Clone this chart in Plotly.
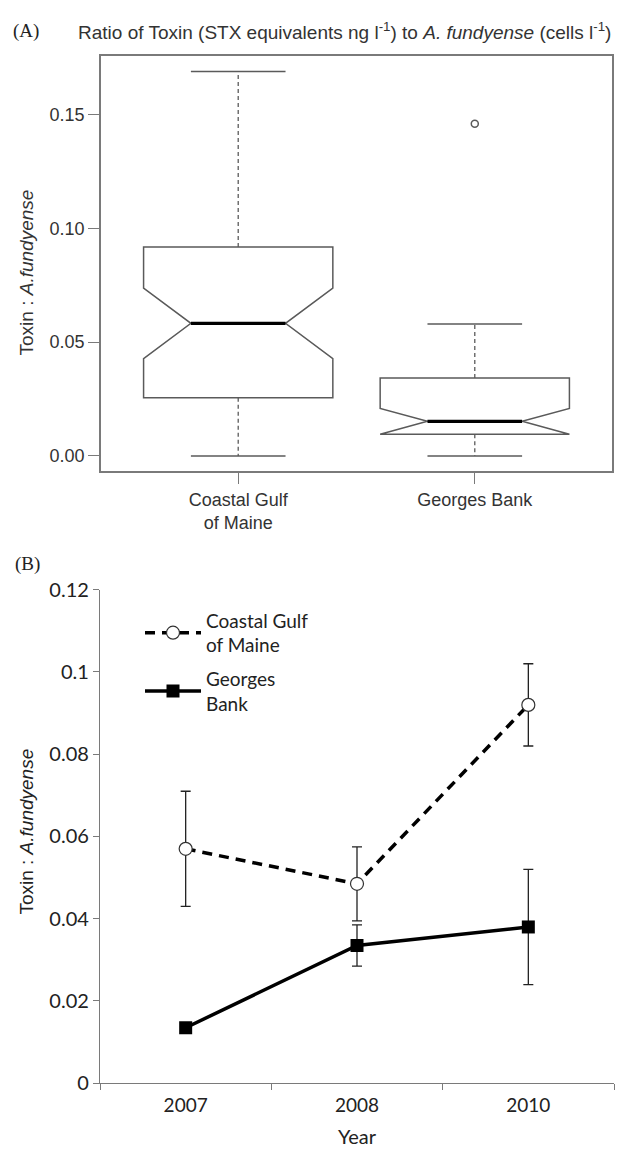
import plotly.graph_objects as go

# ---------- Panel A data (box statistics) ----------
regions = ["Coastal Gulf<br>of Maine", "Georges Bank"]
positions = [1, 2]
q1 = [0.0256, 0.0095]
median = [0.0583, 0.0152]
q3 = [0.0918, 0.0343]
lower_whisker = [0.0, 0.0]
upper_whisker = [0.169, 0.058]
notch_half = [0.0155, 0.0057]
outlier_pos = [2]
outlier_val = [0.146]

# ---------- Panel B data ----------
years = ["2007", "2008", "2010"]
coastal_mean = [0.057, 0.0485, 0.092]
coastal_err = [0.014, 0.009, 0.010]
georges_mean = [0.0135, 0.0335, 0.038]
georges_err = [0.0008, 0.005, 0.014]
b_ticks = [0, 0.02, 0.04, 0.06, 0.08, 0.10, 0.12]
b_ticklabels = ["0", "0.02", "0.04", "0.06", "0.08", "0.1", "0.12"]
a_ticks = [0.0, 0.05, 0.10, 0.15]
a_ticklabels = ["0.00", "0.05", "0.10", "0.15"]

W, H = 634, 1153
BOXW = 0.8
GRAY = "#5a5a5a"
AX = "#7a7a7a"

fig = go.Figure()

# Panel A boxes
for i in range(len(regions)):
    fig.add_trace(go.Box(
        x=[positions[i]], q1=[q1[i]], median=[median[i]], q3=[q3[i]],
        lowerfence=[q1[i]], upperfence=[q3[i]],
        notched=True, notchspan=[notch_half[i]], notchwidth=0.25,
        width=BOXW, fillcolor="rgba(0,0,0,0)",
        line=dict(color=GRAY, width=1.5), boxpoints=False,
        showlegend=False, hoverinfo="skip", xaxis="x", yaxis="y"))
    # dashed whiskers
    fig.add_trace(go.Scatter(x=[positions[i], positions[i]], y=[q3[i], upper_whisker[i]],
                             mode="lines", line=dict(color=GRAY, width=1.3, dash="4px,3px"),
                             showlegend=False, hoverinfo="skip", xaxis="x", yaxis="y"))
    fig.add_trace(go.Scatter(x=[positions[i], positions[i]], y=[q1[i], lower_whisker[i]],
                             mode="lines", line=dict(color=GRAY, width=1.3, dash="4px,3px"),
                             showlegend=False, hoverinfo="skip", xaxis="x", yaxis="y"))
    # staples
    for v in (upper_whisker[i], lower_whisker[i]):
        fig.add_trace(go.Scatter(x=[positions[i] - BOXW / 4, positions[i] + BOXW / 4], y=[v, v],
                                 mode="lines", line=dict(color=GRAY, width=1.5),
                                 showlegend=False, hoverinfo="skip", xaxis="x", yaxis="y"))
    # thick median
    fig.add_trace(go.Scatter(x=[positions[i] - BOXW / 4, positions[i] + BOXW / 4], y=[median[i], median[i]],
                             mode="lines", line=dict(color="black", width=3.2),
                             showlegend=False, hoverinfo="skip", xaxis="x", yaxis="y"))

fig.add_trace(go.Scatter(x=outlier_pos, y=outlier_val, mode="markers",
                         marker=dict(symbol="circle-open", size=7, color=GRAY, line=dict(width=1.5)),
                         showlegend=False, hoverinfo="skip", xaxis="x", yaxis="y"))

# Panel B lines
fig.add_trace(go.Scatter(
    x=years, y=coastal_mean, name="Coastal Gulf<br>of Maine", legendgroup="c",
    mode="lines+markers",
    line=dict(color="black", width=3.5, dash="10px,7px"),
    marker=dict(symbol="circle", size=13, color="white", line=dict(color="#333", width=1.2)),
    error_y=dict(type="data", array=coastal_err, color="#222", thickness=1.3, width=5),
    xaxis="x2", yaxis="y2"))
fig.add_trace(go.Scatter(
    x=years, y=georges_mean, name="Georges<br>Bank", legendgroup="g",
    mode="lines+markers",
    line=dict(color="black", width=3.5),
    marker=dict(symbol="square", size=13, color="black"),
    error_y=dict(type="data", array=georges_err, color="#222", thickness=1.3, width=5),
    xaxis="x2", yaxis="y2"))

def py(px):
    return 1 - px / H

fig.update_layout(
    width=W, height=H, margin=dict(l=0, r=0, t=0, b=0),
    paper_bgcolor="white", plot_bgcolor="white",
    font=dict(family="Liberation Sans, Arial", color="#333"),
    xaxis=dict(domain=[101 / W, 612 / W], range=[0.42, 2.58], tickvals=positions, ticktext=regions,
               ticks="outside", ticklen=11, tickcolor=AX, tickwidth=1.3,
               showline=True, linecolor=AX, linewidth=1.5, mirror=True,
               showgrid=False, zeroline=False, tickfont=dict(size=18, color="#333"), anchor="y"),
    yaxis=dict(domain=[py(468), py(44)], range=[-0.00676, 0.1758], tickvals=a_ticks, ticktext=a_ticklabels,
               ticks="outside", ticklen=11, tickcolor=AX, tickwidth=1.3,
               showline=True, linecolor=AX, linewidth=1.5, mirror=True,
               showgrid=False, zeroline=False, tickfont=dict(size=18, color="#333"), anchor="x"),
    xaxis2=dict(domain=[100 / W, 614 / W], type="category", categoryorder="array", categoryarray=years,
                range=[-0.5, 2.5], tickson="boundaries", ticks="outside", ticklen=6,
                tickcolor=AX, showline=True, linecolor=AX, linewidth=1.3, showgrid=False,
                zeroline=False, tickfont=dict(family="Lato", size=19, color="#222"), anchor="y2",
                ticklabelstandoff=5,
                title=dict(text="Year", font=dict(family="Lato", size=20, color="#222"), standoff=14)),
    yaxis2=dict(domain=[py(1093), py(589)], range=[0, 0.12], tickvals=b_ticks, ticktext=b_ticklabels,
                ticks="outside", ticklen=6, tickcolor=AX, showline=True, linecolor=AX, linewidth=1.3,
                showgrid=False, zeroline=False, tickfont=dict(family="Lato", size=20, color="#222"),
                anchor="x2"),
    legend=dict(x=140 / W, y=py(601), xanchor="left", yanchor="top",
                font=dict(family="Lato", size=19, color="#222"), bgcolor="rgba(0,0,0,0)",
                tracegroupgap=6, itemwidth=56),
    showlegend=True,
    annotations=[
        dict(text="(A)", x=11 / W, y=py(18), xref="paper", yref="paper", xanchor="left",
             yanchor="middle", showarrow=False, font=dict(family="Liberation Serif", size=19, color="#222")),
        dict(text="Ratio of Toxin (STX equivalents ng l<sup>-1</sup>) to <i>A. fundyense</i> (cells l<sup>-1</sup>)",
             x=344 / W, y=py(18), xref="paper", yref="paper", xanchor="center", yanchor="middle",
             showarrow=False, font=dict(size=19, color="#333")),
        dict(text="Toxin : <i>A.fundyense</i>", x=26 / W, y=py(265), xref="paper", yref="paper",
             xanchor="center", yanchor="middle", textangle=-90, showarrow=False,
             font=dict(size=19, color="#333")),
        dict(text="(B)", x=13 / W, y=py(563), xref="paper", yref="paper", xanchor="left",
             yanchor="middle", showarrow=False, font=dict(family="Liberation Serif", size=19, color="#222")),
        dict(text="Toxin : <i>A.fundyense</i>", x=27 / W, y=py(836), xref="paper", yref="paper",
             xanchor="center", yanchor="middle", textangle=-90, showarrow=False,
             font=dict(size=19, color="#222")),
    ],
)

fig.write_html("out.html")
